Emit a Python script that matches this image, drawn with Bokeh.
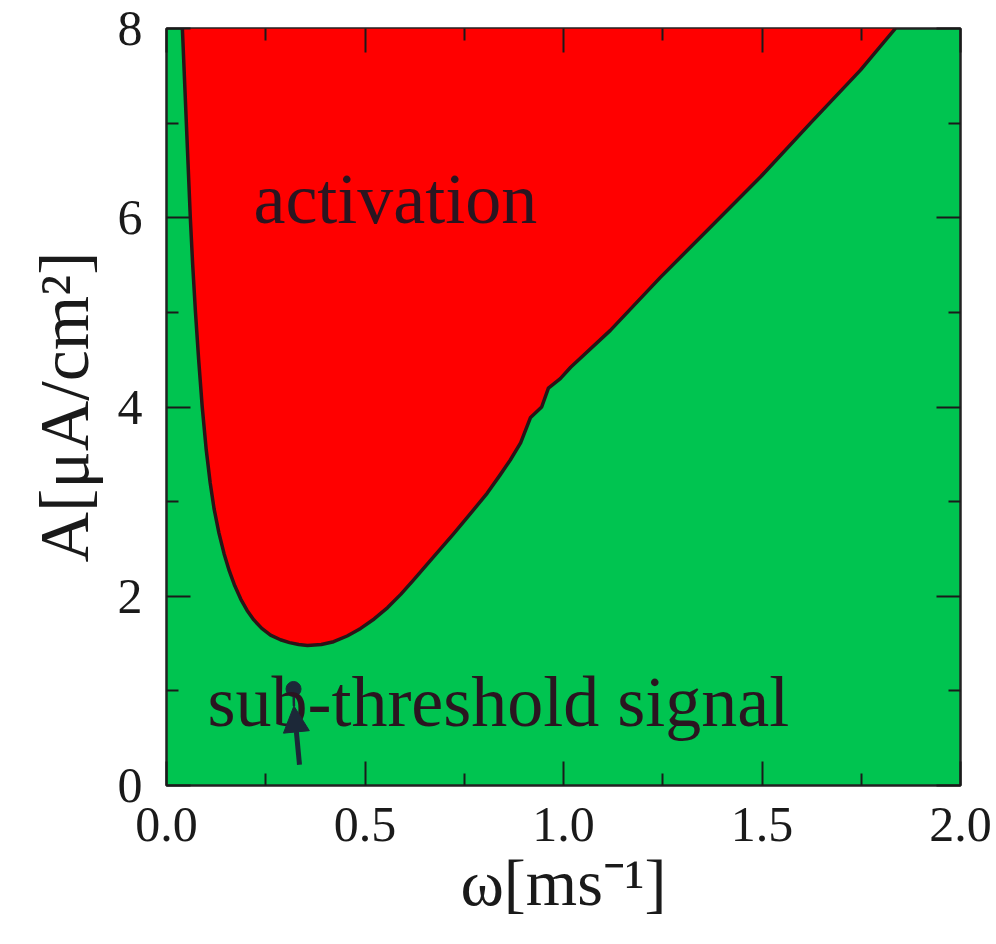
from bokeh.plotting import figure
from bokeh.models import (Range1d, LinearAxis, FixedTicker, Label, Arrow, NormalHead,
                          CustomJSTickFormatter)
from bokeh.embed import file_html
from bokeh.resources import INLINE

# Boundary between activation (above) and sub-threshold (below)
omega = [0.040, 0.045, 0.050, 0.055, 0.060, 0.066, 0.073, 0.081, 0.090, 0.100,
         0.110, 0.120, 0.132, 0.145, 0.158, 0.172, 0.187, 0.203, 0.220, 0.240,
         0.262, 0.287, 0.310, 0.333, 0.355, 0.390, 0.421, 0.455, 0.489, 0.523,
         0.557, 0.590, 0.622, 0.665, 0.723, 0.765, 0.808, 0.840, 0.866, 0.892,
         0.917, 0.945, 0.962, 0.992, 1.018, 1.118, 1.244, 1.370, 1.496, 1.622,
         1.748, 1.836]
amp = [8.00, 7.50, 7.00, 6.50, 6.00, 5.50, 5.00, 4.50, 4.00, 3.55,
       3.20, 2.92, 2.67, 2.45, 2.27, 2.11, 1.97, 1.85, 1.75, 1.66,
       1.59, 1.54, 1.51, 1.49, 1.48, 1.49, 1.52, 1.58, 1.66, 1.76,
       1.88, 2.02, 2.17, 2.38, 2.66, 2.87, 3.09, 3.28, 3.44, 3.62,
       3.89, 4.00, 4.20, 4.30, 4.42, 4.81, 5.37, 5.90, 6.43, 7.00,
       7.56, 8.00]

x_ticks = [0.0, 0.5, 1.0, 1.5, 2.0]
x_minor = [0.25, 0.75, 1.25, 1.75]
y_ticks = [0, 2, 4, 6, 8]
y_minor = [1, 3, 5, 7]

region_labels = ["activation", "sub-threshold signal"]
region_label_x = [0.219, 0.103]
region_label_y = [6.2, 0.88]

marker_point = (0.320, 1.02)
arrow_start = (0.335, 0.22)
arrow_end = (0.321, 0.84)

GREEN = "#00c450"
RED = "#ff0000"
DARK = "#2a1518"
SERIF = "Liberation Serif"

p = figure(frame_width=794, frame_height=757,
           x_range=Range1d(0, 2), y_range=Range1d(0, 8),
           output_backend="svg", toolbar_location=None,
           min_border_left=166, min_border_right=36,
           min_border_top=28, min_border_bottom=159,
           background_fill_color=GREEN, border_fill_color="white")
p.grid.visible = False
p.outline_line_color = "#222222"
p.outline_line_width = 2.5

# activation region and boundary
p.patch(omega, amp, fill_color=RED, line_color=None)
p.line(omega, amp, line_color=DARK, line_width=3.5, line_join="round")

def style_axis(ax, ticks, minor, show_labels):
    ax.ticker = FixedTicker(ticks=ticks, minor_ticks=minor)
    ax.axis_line_color = None
    ax.major_tick_in = 24
    ax.major_tick_out = 0
    ax.minor_tick_in = 12
    ax.minor_tick_out = 0
    ax.major_tick_line_color = "#1a1a1a"
    ax.minor_tick_line_color = "#1a1a1a"
    ax.major_tick_line_width = 2
    ax.minor_tick_line_width = 2
    if show_labels:
        ax.major_label_text_font = SERIF
        ax.major_label_text_font_size = "50px"
        ax.major_label_text_color = "#1a1a1a"
    else:
        ax.major_label_text_font_size = "0px"
        ax.major_label_text_alpha = 0

xa = p.xaxis[0]
ya = p.yaxis[0]
style_axis(xa, x_ticks, x_minor, True)
style_axis(ya, y_ticks, y_minor, True)
xa.formatter = CustomJSTickFormatter(code="return tick.toFixed(1);")
ya.formatter = CustomJSTickFormatter(code="return tick.toFixed(0);")
xa.major_label_standoff = 22
ya.major_label_standoff = 24
ya.major_label_orientation = "horizontal"

xa.axis_label = "ω[ms⁻¹]"
xa.axis_label_text_font = SERIF
xa.axis_label_text_font_style = "normal"
xa.axis_label_text_font_size = "66px"
xa.axis_label_text_color = "#1a1a1a"
xa.axis_label_standoff = 2

ya.axis_label = "A[μA/cm²]"
ya.axis_label_text_font = SERIF
ya.axis_label_text_font_style = "normal"
ya.axis_label_text_font_size = "70px"
ya.axis_label_text_color = "#1a1a1a"
ya.axis_label_standoff = 12

top = LinearAxis()
right = LinearAxis()
style_axis(top, x_ticks, x_minor, False)
style_axis(right, y_ticks, y_minor, False)
p.add_layout(top, "above")
p.add_layout(right, "right")
top.major_label_standoff = 0
right.major_label_standoff = 0

for txt, lx, ly in zip(region_labels, region_label_x, region_label_y):
    p.add_layout(Label(x=lx, y=ly, text=txt, text_font=SERIF,
                       text_font_size="72px", text_color="#2a1520",
                       text_baseline="alphabetic", text_align="left"))

# small marker with arrow
p.line([marker_point[0], arrow_end[0]], [marker_point[1], arrow_end[1]],
       line_color="#1c2838", line_width=2.5)
p.scatter([marker_point[0]], [marker_point[1]], size=15, marker="circle",
          fill_color="#1c2838", line_color="#1c2838")
p.add_layout(Arrow(x_start=arrow_start[0], y_start=arrow_start[1],
                   x_end=arrow_end[0], y_end=arrow_end[1],
                   line_color="#1c2838", line_width=5,
                   end=NormalHead(size=26, fill_color="#1c2838",
                                  line_color="#1c2838")))

open("out.html", "w").write(file_html(p, INLINE))
